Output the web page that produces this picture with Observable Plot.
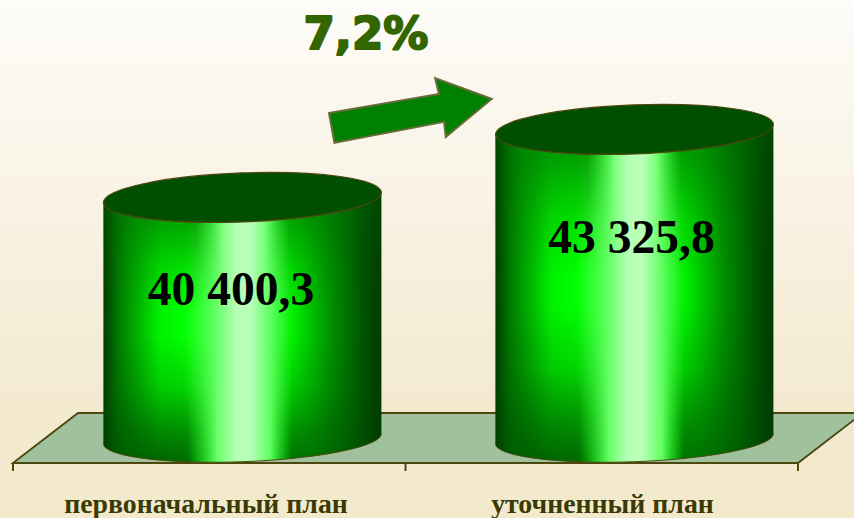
<!DOCTYPE html>
<html>
<head>
<meta charset="utf-8">
<script src="https://cdn.jsdelivr.net/npm/d3@7"></script>
<script src="https://cdn.jsdelivr.net/npm/@observablehq/plot@0.6"></script>
<style>
html,body{margin:0;padding:0;overflow:hidden;background:#f3e9cf}
</style>
</head>
<body>
<div id="chart"></div>
<script>
const categories = ["первоначальный план", "уточненный план"];
const values = [40400.3, 43325.8];
const valueLabels = ["40 400,3", "43 325,8"];
const changeLabel = ["7,2%"];
const axisBase = 30000;

const table = categories.map((category, i) => ({category, value: values[i], label: valueLabels[i]}));

const W = 854, H = 518;
const depthX = 65, depthY = 50;     // perspective offset of the floor
const barShift = 32.4;              // cylinders stand in the middle of the floor depth
const NS = "http://www.w3.org/2000/svg";
const el = (name, attrs, parent) => {
  const e = document.createElementNS(NS, name);
  for (const k in attrs) e.setAttribute(k, attrs[k]);
  if (parent) parent.appendChild(e);
  return e;
};

function defsMark() {
  const defs = el("defs", {});
  const grad = (id, attrs, stops) => {
    const g = el("linearGradient", {id, ...attrs}, defs);
    stops.forEach(([o, c, a]) => el("stop", {offset: o, "stop-color": c, "stop-opacity": a ?? 1}, g));
  };
  grad("cylBase", {x1: 0, x2: 1, y1: 0, y2: 0}, [
    [0, "#003c00"], [.05, "#007800"], [.2, "#00f000"], [.29, "#00ff00"], [.40, "#60ff60"], [.48, "#b8ffb8"],
    [.53, "#b8ffb8"], [.60, "#60ff60"], [.68, "#00f000"], [.82, "#009000"], [.95, "#004c00"], [1, "#003c00"]
  ]);
  grad("shadeTop", {x1: 0, x2: 1, y1: 0, y2: 0}, [
    [0, "#005000", .5], [.1, "#008000", .95], [.33, "#008400", .95], [.43, "#009000", 0],
    [.58, "#009000", 0], [.67, "#008000", .9], [1, "#005000", .4]
  ]);
  grad("shadeBase", {x1: 0, x2: 1, y1: 0, y2: 0}, [
    [0, "#004000", .5], [.1, "#005800", .95], [.3, "#006000", .95], [.41, "#008000", 0],
    [.6, "#008000", 0], [.68, "#006000", .9], [1, "#004000", .4]
  ]);
  grad("fadeTop", {x1: 0, x2: 0, y1: 0, y2: 1}, [[0, "#fff"], [.12, "#bbb"], [.28, "#444"], [.44, "#000"]]);
  grad("fadeBase", {x1: 0, x2: 0, y1: 0, y2: 1}, [[.54, "#000"], [.72, "#444"], [.88, "#bbb"], [1, "#fff"]]);
  [["maskTop", "fadeTop"], ["maskBase", "fadeBase"]].forEach(([id, fade]) => {
    const m = el("mask", {id, maskContentUnits: "objectBoundingBox", x: 0, y: 0, width: 1, height: 1}, defs);
    el("rect", {x: 0, y: 0, width: 1, height: 1, fill: `url(#${fade})`}, m);
  });
  return defs;
}

// Floor and tick marks, from the x scale's band edges and the plot frame.
function floorMark(index, {x}, values, dims) {
  const g = el("g", {});
  const l = dims.marginLeft, r = dims.width - dims.marginRight, b = dims.height - dims.marginBottom;
  const stroke = "#4c4810";
  el("path", {d: `M${l},${b}L${l + depthX},${b - depthY}L${r + depthX},${b - depthY}L${r},${b}Z`,
    fill: "#9fc19c", stroke, "stroke-width": 1.8}, g);
  const step = (r - l) / categories.length;
  [l, l + step, r].forEach(t => el("line", {x1: t, x2: t, y1: b, y2: b + 8, stroke, "stroke-width": 2}, g));
  return g;
}

// Replaces every bar rectangle by a tilted cylinder of the same size.
function cylinderRender(index, scales, vals, dims, ctx, next) {
  const g = next(index, scales, vals, dims, ctx);
  const tilt = -2.1, ryTop = 24.5, ryBase = 23, t = Math.tan(tilt * Math.PI / 180);
  g.querySelectorAll("rect").forEach(rect => {
    const x = +rect.getAttribute("x"), y = +rect.getAttribute("y");
    const w = +rect.getAttribute("width"), h = +rect.getAttribute("height");
    const rx = w / 2, cx = x + rx, by = y + h;
    const dy = rx * t;
    const d = `M${x},${y - dy}L${x},${by - dy}A${rx},${ryBase} ${tilt} 0 0 ${x + w},${by + dy}L${x + w},${y + dy}Z`;
    const c = el("g", {});
    el("path", {d, fill: "url(#cylBase)"}, c);
    el("path", {d, fill: "url(#shadeTop)", mask: "url(#maskTop)"}, c);
    el("path", {d, fill: "url(#shadeBase)", mask: "url(#maskBase)"}, c);
    el("path", {d: `M${x},${by - dy}A${rx},${ryBase} ${tilt} 0 0 ${x + w},${by + dy}`,
      fill: "none", stroke: "#4c4810", "stroke-width": 1}, c);
    el("ellipse", {cx, cy: y + .5, rx, ry: ryTop, transform: `rotate(${tilt} ${cx} ${y})`,
      fill: "#004f00", stroke: "#4f4510", "stroke-width": 1.2}, c);
    rect.replaceWith(c);
  });
  return g;
}

// Growth arrow: spans the gap between the cylinders, rising with the change.
function arrowMark(index, {x, y}) {
  const x0 = x(categories[0]) + x.bandwidth() + barShift;
  const x1 = x(categories[1]) + barShift;
  const mid = y(values[1]);
  const tail = [x0 - 49.7, mid - 1], tip = [x1 - 3.7, mid - 30];
  const dx = tip[0] - tail[0], dy = tip[1] - tail[1], L = Math.hypot(dx, dy);
  const u = [dx / L, dy / L], n = [-u[1], u[0]];
  const at = (s, o) => `${tail[0] + u[0] * s + n[0] * o},${tail[1] + u[1] * s + n[1] * o}`;
  const head = L - 52;
  return el("polygon", {
    points: [at(0, -15.2), at(head + 1, -14.3), at(head, -30.5), at(L, 0), at(head, 29.3), at(head + 1, 14.1), at(0, 15.2)].join(" "),
    fill: "#008000", stroke: "#6b6b3c", "stroke-width": 2, "stroke-linejoin": "miter"
  });
}

const serif = "'Liberation Serif', serif";
const axisStyle = {label: null, tickSize: 0, tickPadding: 30, fontSize: 27.8, fontWeight: "bold",
  fontFamily: serif, fill: "#3a3a04", textStroke: "none"};

const chart = Plot.plot({
  width: W, height: H,
  marginLeft: 13, marginRight: W - 798, marginTop: 0, marginBottom: H - 463,
  style: {background: "linear-gradient(to bottom,#fdfcf8 0%,#f3e9cf 80%,#f3e9cc 100%)", overflow: "hidden"},
  x: {domain: categories, paddingInner: .292, paddingOuter: .146, axis: null},
  y: {domain: [axisBase, 45000], range: [438.7, 90], axis: null},
  marks: [
    defsMark,
    floorMark,
    Plot.axisX({...axisStyle, ticks: [categories[0]], dx: -4.5}),
    Plot.axisX({...axisStyle, ticks: [categories[1]], dx: 0}),
    Plot.barY(table, {x: "category", y1: () => axisBase, y2: "value", dx: barShift, fill: "#00a000", render: cylinderRender}),
    Plot.text(table.slice(0, 1), {x: "category", y: "value", text: "label", dx: 20.5, dy: 92,
      fontSize: 47.6, fontWeight: "bold", fontFamily: serif, fill: "#000", stroke: "none"}),
    Plot.text(table.slice(1), {x: "category", y: "value", text: "label", dx: 29, dy: 108,
      fontSize: 47.6, fontWeight: "bold", fontFamily: serif, fill: "#000", stroke: "none"}),
    arrowMark,
    Plot.text(changeLabel, {frameAnchor: "top-left", dx: 290, dy: 17, text: d => d,
      fontSize: 45, fontWeight: "bold", fontFamily: "'DejaVu Sans', sans-serif", textAnchor: "start",
      fill: "#336600", stroke: "#336600", strokeWidth: 2, strokeLinejoin: "round"})
  ]
});
document.getElementById("chart").appendChild(chart);
</script>
</body>
</html>
